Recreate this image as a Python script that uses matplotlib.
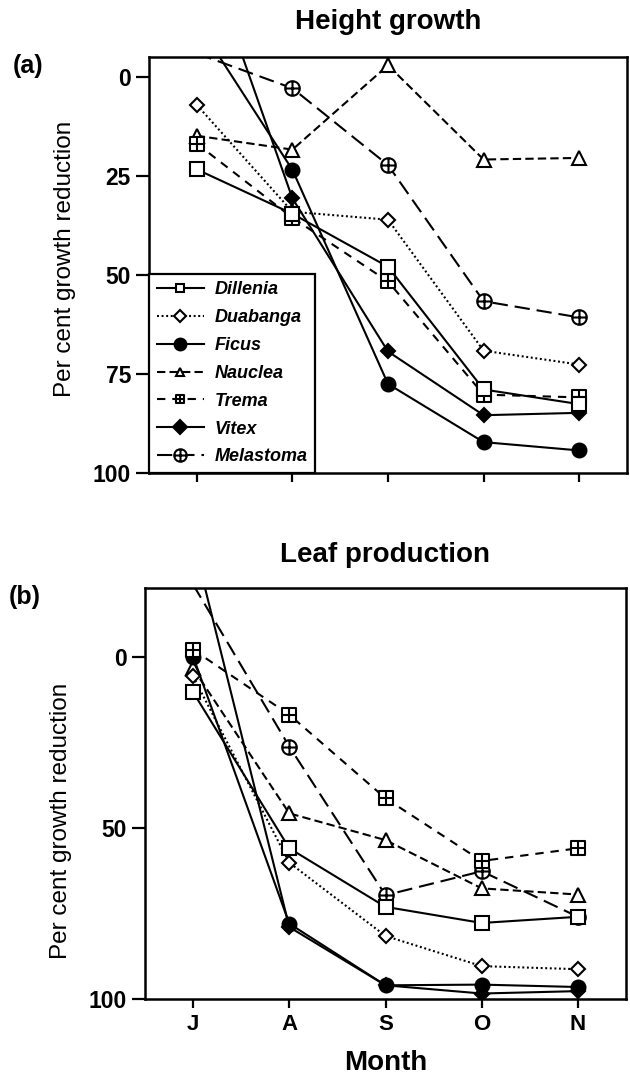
import matplotlib
matplotlib.use('Agg')
import matplotlib.pyplot as plt
from matplotlib.path import Path
from matplotlib.lines import Line2D

plt.rcParams['font.family'] = ['Liberation Sans', 'DejaVu Sans']
plt.rcParams['lines.scale_dashes'] = False

# ---------------- data ----------------
months = ['J', 'A', 'S', 'O', 'N']
species = ['Dillenia', 'Duabanga', 'Ficus', 'Nauclea', 'Trema', 'Vitex', 'Melastoma']

# (a) Height growth: per cent growth reduction
height_dillenia = [23.3, 34.5, 47.9, 78.9, 82.6]
height_duabanga = [7.0, 34.0, 36.0, 69.1, 72.6]
height_ficus = [-14.0, 23.4, 77.5, 92.2, 94.3]
height_nauclea = [14.8, 18.3, -3.0, 20.8, 20.4]
height_trema = [16.8, 35.5, 51.6, 80.2, 80.9]
height_vitex = [-38.0, 30.6, 69.3, 85.4, 84.8]
height_melastoma = [-6.0, 2.8, 22.2, 56.6, 60.7]

# (b) Leaf production: per cent growth reduction
leaf_dillenia = [10.4, 56.0, 73.1, 77.8, 76.0]
leaf_duabanga = [5.8, 60.2, 81.6, 90.4, 91.3]
leaf_ficus = [0.0, 78.0, 96.0, 95.8, 96.5]
leaf_nauclea = [3.5, 45.8, 53.6, 67.7, 69.5]
leaf_trema = [-2.0, 17.0, 41.4, 59.7, 56.0]
leaf_vitex = [-34.0, 79.0, 96.0, 98.4, 97.7]
leaf_melastoma = [-21.0, 26.3, 69.7, 62.7, 76.0]

height_ticks = [0, 25, 50, 75, 100]
leaf_ticks = [0, 50, 100]

height_series = [height_dillenia, height_duabanga, height_ficus, height_nauclea,
                 height_trema, height_vitex, height_melastoma]
leaf_series = [leaf_dillenia, leaf_duabanga, leaf_ficus, leaf_nauclea,
               leaf_trema, leaf_vitex, leaf_melastoma]

# ---------------- markers ----------------
M, L = Path.MOVETO, Path.LINETO
plus = Path([(-1, 0), (1, 0), (0, -1), (0, 1)], [M, L, M, L])
oplus = Path.make_compound_path(Path.unit_circle(), plus)
square = Path([(-1, -1), (1, -1), (1, 1), (-1, 1), (-1, -1)],
              [M, L, L, L, Path.CLOSEPOLY])
boxplus = Path.make_compound_path(square, plus)

styles = {
    'Dillenia':  dict(ls='-', marker='s', mfc='white', ms=9.5, lms=5.5, z=3.5),
    'Duabanga':  dict(ls=(0, (1.4, 1.9)), marker='D', mfc='white', ms=7, lms=6.5, z=2.5),
    'Ficus':     dict(ls='-', marker='o', mfc='black', ms=10, lms=8.5, z=2.6),
    'Nauclea':   dict(ls=(0, (6, 3)), marker='^', mfc='white', ms=10, lms=6, z=2.4),
    'Trema':     dict(ls=(0, (6, 5)), marker=boxplus, mfc='white', ms=9.5, lms=6, z=2.7),
    'Vitex':     dict(ls='-', marker='D', mfc='black', ms=7.5, lms=7, z=2.8),
    'Melastoma': dict(ls=(0, (11, 5)), marker=oplus, mfc='white', ms=10.5, lms=9, z=2.3),
}
LW = 1.5
MEW = 1.5

W, H = 630, 1081
fig = plt.figure(figsize=(W / 100, H / 100), dpi=100)

def fx(px):
    return px / W

def fy(py):
    return 1 - py / H

ax_a = fig.add_axes([fx(149), fy(473), fx(627) - fx(149), fy(57) - fy(473)])
ax_b = fig.add_axes([fx(145), fy(999), fx(626) - fx(145), fy(588) - fy(999)])

xpos = list(range(len(months)))

def draw(ax, series, ytop, yticks):
    ax.set_xlim(-0.5, 4.5)
    ax.set_ylim(100, ytop)
    for name, vals in zip(species, series):
        st = styles[name]
        inside = [i for i, v in enumerate(vals) if v >= ytop]
        ax.plot(xpos, vals, color='black', lw=LW, ls=st['ls'],
                marker=st['marker'], ms=st['ms'], mfc=st['mfc'],
                mec='black', mew=MEW, markevery=inside, zorder=st['z'])
    ax.set_xticks(xpos)
    ax.set_yticks(yticks)
    ax.set_yticklabels([str(t) for t in yticks])
    for s in ax.spines.values():
        s.set_linewidth(1.8)
    ax.tick_params(axis='y', direction='out', length=9.5, width=1.6,
                   pad=3.5, labelsize=16.5)
    ax.tick_params(axis='x', direction='out', length=6.5, width=1.6,
                   pad=4, labelsize=16)
    for lab in ax.get_yticklabels() + ax.get_xticklabels():
        lab.set_fontweight('bold')

draw(ax_a, height_series, -5.1, height_ticks)
draw(ax_b, leaf_series, -20, leaf_ticks)

ax_a.tick_params(axis='x', labelbottom=False)
ax_b.set_xticklabels(months)
for lab in ax_b.get_xticklabels():
    lab.set_fontweight('bold')

ax_a.set_title('Height growth', fontsize=20, fontweight='bold', pad=20)
ax_b.set_title('Leaf production', fontsize=20, fontweight='bold', pad=19)
ax_b.set_xlabel('Month', fontsize=20, fontweight='bold', labelpad=11)

fig.text(fx(13), fy(66), '(a)', fontsize=18, fontweight='bold', ha='left', va='center')
fig.text(fx(9), fy(597), '(b)', fontsize=18, fontweight='bold', ha='left', va='center')

fig.text(fx(65), fy(259), 'Per cent growth reduction', fontsize=17.5,
         rotation=90, ha='center', va='center')
fig.text(fx(61), fy(821), 'Per cent growth reduction', fontsize=17.5,
         rotation=90, ha='center', va='center')

handles = []
for name in species:
    st = styles[name]
    handles.append(Line2D([], [], color='black', lw=LW, ls=st['ls'],
                          marker=st['marker'], ms=st['lms'], mfc=st['mfc'],
                          mec='black', mew=MEW))
leg = ax_a.legend(handles, species, loc='lower left', bbox_to_anchor=(0, 0),
                  borderaxespad=0, frameon=True, fancybox=False,
                  handlelength=2.6, handletextpad=0.6, labelspacing=0.6,
                  borderpad=0.42, prop=dict(size=13, weight='bold', style='italic'))
leg.get_frame().set_edgecolor('black')
leg.get_frame().set_linewidth(1.6)
leg.get_frame().set_alpha(1)
leg.set_zorder(10)

fig.savefig('out.png', dpi=100)
